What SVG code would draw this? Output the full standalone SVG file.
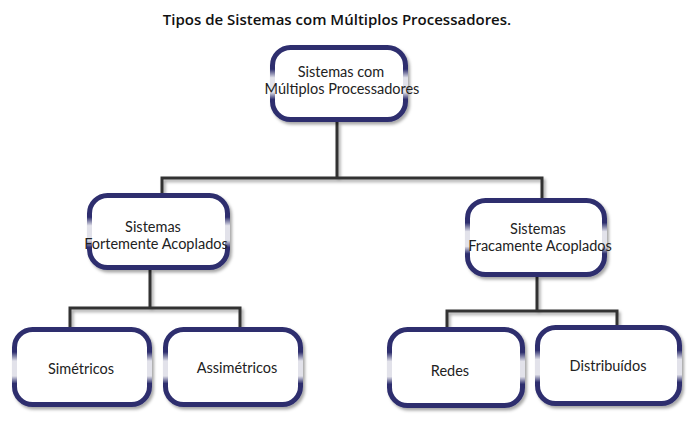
<svg xmlns="http://www.w3.org/2000/svg" width="697" height="425" viewBox="0 0 697 425">
<style>
.box{fill:#fff;stroke:url(#edge);stroke-width:5;filter:url(#sh)}
.t{font-family:Lato,"Open Sans",sans-serif;font-size:14.5px;fill:#222;text-anchor:middle}
.ttl{font-family:"Open Sans",Lato,sans-serif;font-size:15px;font-weight:600;fill:#111;text-anchor:middle}
.c{fill:none;stroke:#333;stroke-width:3;stroke-linejoin:miter}
</style>
<defs>
<linearGradient id="edge" x1="0" y1="0" x2="0" y2="1">
<stop offset="0" stop-color="#2d2e6e"/>
<stop offset="0.3" stop-color="#2d2e6e"/>
<stop offset="0.42" stop-color="#e2e2ea"/>
<stop offset="0.62" stop-color="#e2e2ea"/>
<stop offset="0.72" stop-color="#2d2e6e"/>
<stop offset="1" stop-color="#2d2e6e"/>
</linearGradient>
<filter id="sh" x="-10%" y="-10%" width="125%" height="130%">
<feDropShadow dx="2" dy="2.5" stdDeviation="1.5" flood-color="#000" flood-opacity="0.35"/>
</filter>
</defs>
<rect width="697" height="425" fill="#fff"/>
<text class="ttl" x="337" y="25">Tipos de Sistemas com Múltiplos Processadores.</text>
<g id="connectors" filter="url(#sh)">
<path class="c" d="M337,122 V178 M162,193 V178 H542 V198"/>
<path class="c" d="M150,270 V308 M70,327 V308 H240 V327"/>
<path class="c" d="M537,277 V311 M447,327 V311 H617 V325"/>
</g>
<g id="root">
<rect class="box" x="272.5" y="47.5" width="133" height="72" rx="18"/>
<text class="t" x="341" y="77">Sistemas com</text>
<text class="t" x="342" y="94">Múltiplos Processadores</text>
</g>
<g id="fortemente">
<rect class="box" x="89.5" y="195.5" width="138" height="72" rx="18"/>
<text class="t" x="153" y="232">Sistemas</text>
<text class="t" x="156" y="249">Fortemente Acoplados</text>
</g>
<g id="fracamente">
<rect class="box" x="467.5" y="200.5" width="137" height="74" rx="18"/>
<text class="t" x="538" y="234">Sistemas</text>
<text class="t" x="540" y="251">Fracamente Acoplados</text>
</g>
<g id="simetricos">
<rect class="box" x="14.5" y="329.5" width="135" height="75" rx="18"/>
<text class="t" x="81" y="374">Simétricos</text>
</g>
<g id="assimetricos">
<rect class="box" x="165.5" y="329.5" width="135" height="75" rx="18"/>
<text class="t" x="237" y="373">Assimétricos</text>
</g>
<g id="redes">
<rect class="box" x="389.5" y="329.5" width="133" height="76" rx="18"/>
<text class="t" x="450" y="376">Redes</text>
</g>
<g id="distribuidos">
<rect class="box" x="537.5" y="327.5" width="142" height="76" rx="18"/>
<text class="t" x="608" y="371">Distribuídos</text>
</g>
</svg>
